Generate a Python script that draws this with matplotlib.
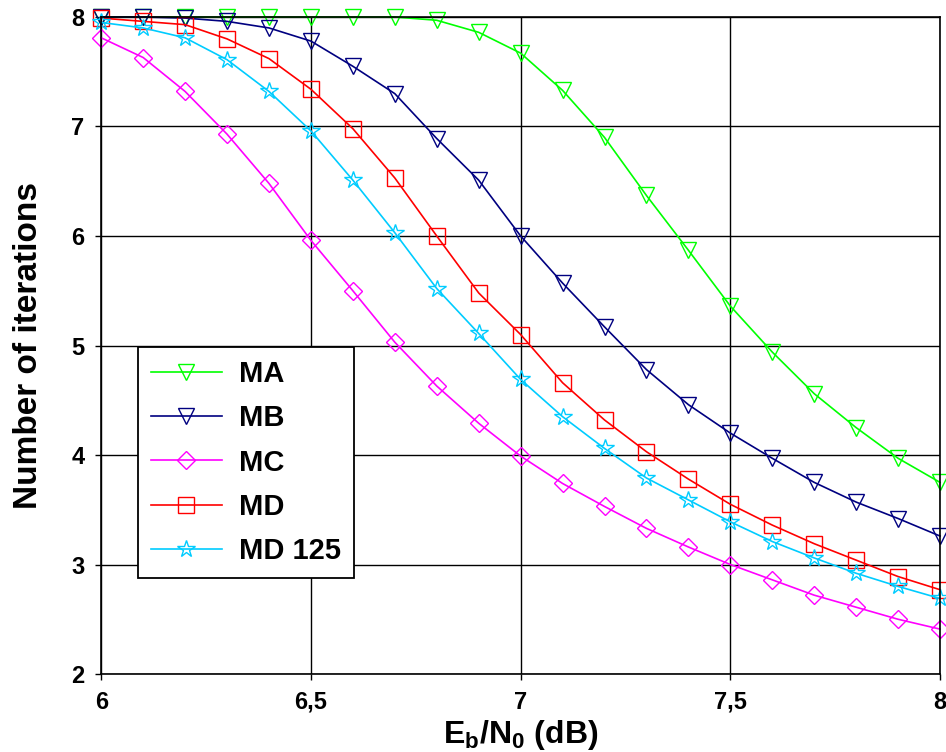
import numpy as np
import matplotlib.pyplot as plt
from matplotlib.ticker import FuncFormatter

plt.rcParams['font.family'] = ['Liberation Sans', 'DejaVu Sans']
plt.rcParams['font.weight'] = 'bold'

# Eb/N0 (dB)
snr = [6.0, 6.1, 6.2, 6.3, 6.4, 6.5, 6.6, 6.7, 6.8, 6.9, 7.0,
       7.1, 7.2, 7.3, 7.4, 7.5, 7.6, 7.7, 7.8, 7.9, 8.0]

ma = [8.0, 8.0, 8.0, 8.0, 8.0, 8.0, 8.0, 8.0, 7.97, 7.86, 7.67,
      7.33, 6.90, 6.37, 5.87, 5.36, 4.94, 4.56, 4.25, 3.97, 3.75]
mb = [8.0, 8.0, 7.99, 7.96, 7.90, 7.78, 7.55, 7.30, 6.89, 6.51, 6.0,
      5.57, 5.17, 4.78, 4.46, 4.20, 3.97, 3.75, 3.57, 3.42, 3.26]
mc = [7.81, 7.63, 7.32, 6.93, 6.48, 5.96, 5.50, 5.03, 4.63, 4.29, 3.99,
      3.74, 3.53, 3.33, 3.16, 3.00, 2.86, 2.72, 2.61, 2.50, 2.41]
md = [7.99, 7.96, 7.93, 7.80, 7.62, 7.34, 6.98, 6.53, 6.0, 5.48, 5.10,
      4.66, 4.32, 4.03, 3.78, 3.55, 3.36, 3.19, 3.04, 2.89, 2.77]
md125 = [7.95, 7.90, 7.81, 7.61, 7.32, 6.96, 6.51, 6.03, 5.52, 5.11, 4.69,
         4.35, 4.06, 3.79, 3.59, 3.39, 3.21, 3.06, 2.92, 2.80, 2.69]

series = [
    ("MA", ma, "#00FF00", "v"),
    ("MB", mb, "#000080", "v"),
    ("MC", mc, "#FF00FF", "D"),
    ("MD", md, "#FF0000", "s"),
    ("MD 125", md125, "#00CCFF", "*"),
]

fig = plt.figure(figsize=(9.46, 7.52), dpi=100)
ax = fig.add_axes([0.107, 0.1037, 0.8867, 0.8737])

for name, ys, col, mk in series:
    ms = 13 if mk == "*" else (9 if mk == "D" else 11)
    ax.plot(snr, ys, color=col, lw=1.2, marker=mk, ms=ms,
            mfc="none", mec=col, mew=1.0, label=name, clip_on=False)

ax.set_xlim(6, 8)
ax.set_ylim(2, 8)
ax.set_xticks([6, 6.5, 7, 7.5, 8])
ax.set_yticks(range(2, 9))
ax.xaxis.set_major_formatter(FuncFormatter(lambda v, p: f"{v:g}".replace(".", ",")))
ax.tick_params(labelsize=17, length=4, width=1, direction="out", pad=8)
for lab in ax.get_xticklabels() + ax.get_yticklabels():
    lab.set_fontweight("bold")

ax.grid(True, color="black", lw=1.0)
ax.set_axisbelow(True)
for s in ax.spines.values():
    s.set_color("black")
    s.set_linewidth(1.2)

ax.set_xlabel(r"E$_\mathregular{b}$/N$_\mathregular{0}$ (dB)", fontsize=23,
              fontweight="bold", labelpad=3)
ax.set_ylabel("Number of iterations", fontsize=24, fontweight="bold", labelpad=20)

leg = ax.legend(loc="upper left", bbox_to_anchor=(0.0435, 0.498), borderaxespad=0,
                fancybox=False, framealpha=1, edgecolor="black",
                prop={"size": 21, "weight": "bold"}, handlelength=2.43,
                labelspacing=0.56, borderpad=0.45, handletextpad=0.6)
leg.get_frame().set_linewidth(1.3)

fig.savefig("out.png", dpi=100)
